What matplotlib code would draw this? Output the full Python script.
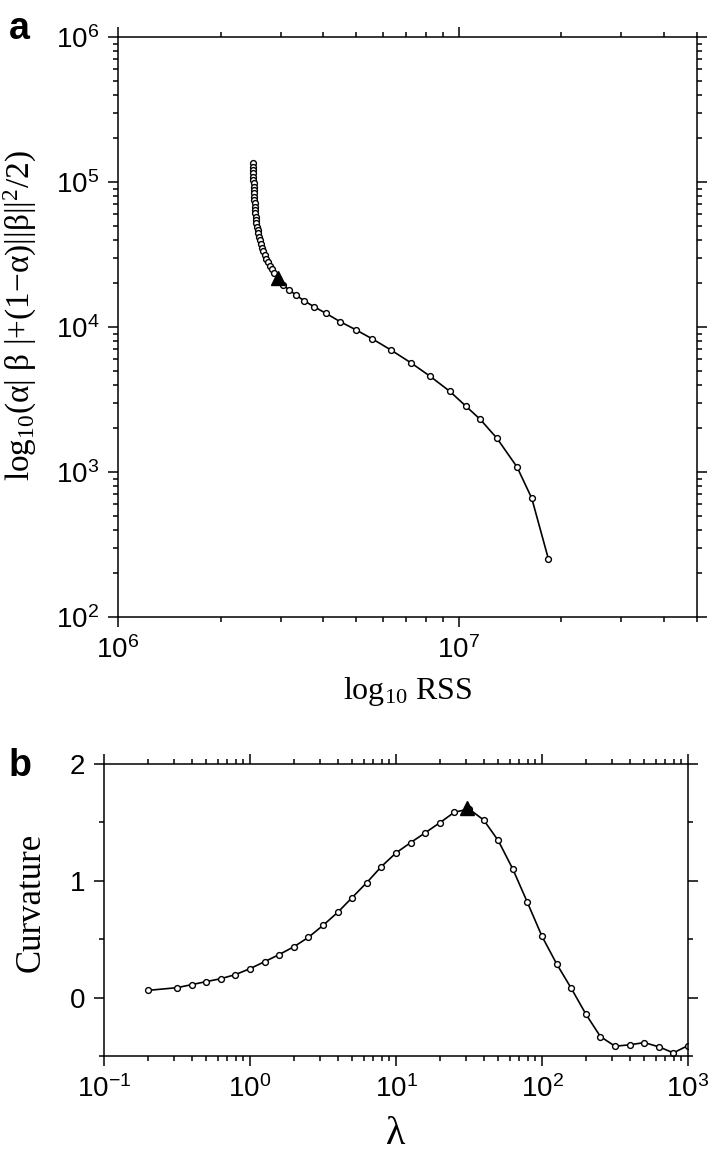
import matplotlib
matplotlib.use("Agg")
import matplotlib.pyplot as plt
from matplotlib.ticker import LogLocator, MultipleLocator, NullFormatter

plt.rcParams['font.family'] = ['Liberation Sans', 'DejaVu Sans']
plt.rcParams['mathtext.fontset'] = 'custom'
plt.rcParams['mathtext.rm'] = 'Liberation Serif'
plt.rcParams['mathtext.it'] = 'Liberation Serif:italic'

# panel a: L-curve (RSS vs penalty)
rss = [2.494e6, 2.494e6, 2.494e6, 2.494e6, 2.494e6, 2.494e6, 2.499e6, 2.499e6,
       2.499e6, 2.505e6, 2.505e6, 2.511e6, 2.516e6, 2.516e6, 2.522e6, 2.528e6,
       2.533e6, 2.539e6, 2.545e6, 2.556e6, 2.568e6, 2.579e6, 2.591e6, 2.608e6,
       2.626e6, 2.644e6, 2.668e6, 2.692e6, 2.723e6, 2.754e6, 2.785e6, 2.822e6,
       2.867e6, 2.95e6, 3.05e6, 3.18e6, 3.33e6, 3.51e6, 3.76e6, 4.08e6, 4.48e6,
       4.98e6, 5.58e6, 6.32e6, 7.23e6, 8.24e6, 9.41e6, 1.048e7, 1.155e7,
       1.292e7, 1.482e7, 1.637e7, 1.833e7]
penalty = [1.345e5, 1.276e5, 1.210e5, 1.148e5, 1.089e5, 1.032e5, 9.79e4, 9.29e4,
           8.81e4, 8.35e4, 7.92e4, 7.51e4, 7.13e4, 6.76e4, 6.41e4, 6.08e4,
           5.77e4, 5.47e4, 5.19e4, 4.92e4, 4.67e4, 4.43e4, 4.20e4, 3.98e4,
           3.74e4, 3.53e4, 3.33e4, 3.14e4, 2.96e4, 2.79e4, 2.63e4, 2.50e4,
           2.37e4, 2.17e4, 1.95e4, 1.80e4, 1.66e4, 1.52e4, 1.38e4, 1.24e4, 1.09e4,
           9.58e3, 8.27e3, 6.94e3, 5.67e3, 4.57e3, 3.60e3, 2.85e3, 2.31e3,
           1.716e3, 1.083e3, 659, 250]
best_rss = [2.95e6]
best_penalty = [2.17e4]

# panel b: curvature vs lambda
lam = [0.2, 0.316, 0.398, 0.501, 0.631, 0.794, 1.0, 1.26, 1.58, 2.0, 2.51, 3.16,
       3.98, 5.01, 6.31, 7.94, 10.0, 12.6, 15.8, 20.0, 25.1, 31.6, 39.8, 50.1,
       63.1, 79.4, 100, 126, 158, 200, 251, 316, 398, 501, 631, 794, 1000]
curv = [0.062, 0.085, 0.111, 0.137, 0.162, 0.197, 0.248, 0.308, 0.368, 0.436,
        0.516, 0.618, 0.729, 0.857, 0.985, 1.122, 1.239, 1.327, 1.41, 1.498,
        1.587, 1.615, 1.521, 1.345, 1.10, 0.815, 0.524, 0.288, 0.083, -0.143,
        -0.333, -0.416, -0.404, -0.385, -0.421, -0.473, -0.41]
best_lam = [30.5]
best_curv = [1.62]

fig = plt.figure(figsize=(7.11, 11.53), dpi=100)
ax1 = fig.add_axes([0.166, 0.4649, 0.8143, 0.503])
ax2 = fig.add_axes([0.1463, 0.0841, 0.8214, 0.2533])

line_kw = dict(color='black', lw=1.2, marker='o', ms=4.2, mfc='white',
               mec='black', mew=1.0)

ax1.plot(rss, penalty, **line_kw)
ax1.plot(best_rss, best_penalty, '^', color='black', ms=10, zorder=5)
ax1.set_xscale('log')
ax1.set_yscale('log')
ax1.set_xlim(1e6, 5e7)
ax1.set_ylim(1e2, 1e6)
ax1.set_xlabel(r'log$_{10}$ RSS', family='Liberation Serif', fontsize=23,
               labelpad=8)
fig.text(20 / 711, 1 - 316 / 1153, r'log$_{10}$(α| β |+(1−α)||β||$^2$/2)',
         family='Liberation Serif', fontsize=24, rotation=90,
         ha='center', va='center')

ax2.plot(lam, curv, **line_kw)
ax2.plot(best_lam, best_curv, '^', color='black', ms=10, zorder=5)
ax2.set_xscale('log')
ax2.set_xlim(0.1, 1000)
ax2.set_ylim(-0.5, 2)
ax2.yaxis.set_major_locator(MultipleLocator(1))
ax2.yaxis.set_minor_locator(MultipleLocator(0.5))
ax2.set_xlabel('λ', family='Liberation Serif', fontsize=29, labelpad=10)
fig.text(31 / 711, 1 - 902 / 1153, 'Curvature', family='Liberation Serif',
         fontsize=25, rotation=90, ha='center', va='center')

for ax in (ax1, ax2):
    ax.xaxis.set_major_locator(LogLocator(base=10, numticks=20))
    ax.xaxis.set_minor_locator(LogLocator(base=10, subs=range(2, 10), numticks=20))
    ax.xaxis.set_minor_formatter(NullFormatter())
    ax.tick_params(which='both', direction='out', top=True, right=True,
                   labelsize=20, width=1.1, pad=6)
    ax.tick_params(which='major', length=7.5)
    ax.tick_params(which='minor', length=3.8)
    for sp in ax.spines.values():
        sp.set_linewidth(1.1)

ax1.yaxis.set_minor_locator(LogLocator(base=10, subs=range(2, 10), numticks=20))
ax1.yaxis.set_minor_formatter(NullFormatter())

fig.text(0.012, 0.966, 'a', fontsize=27, fontweight='bold')
fig.text(0.012, 0.327, 'b', fontsize=27, fontweight='bold')

fig.savefig('out.png', dpi=100)
